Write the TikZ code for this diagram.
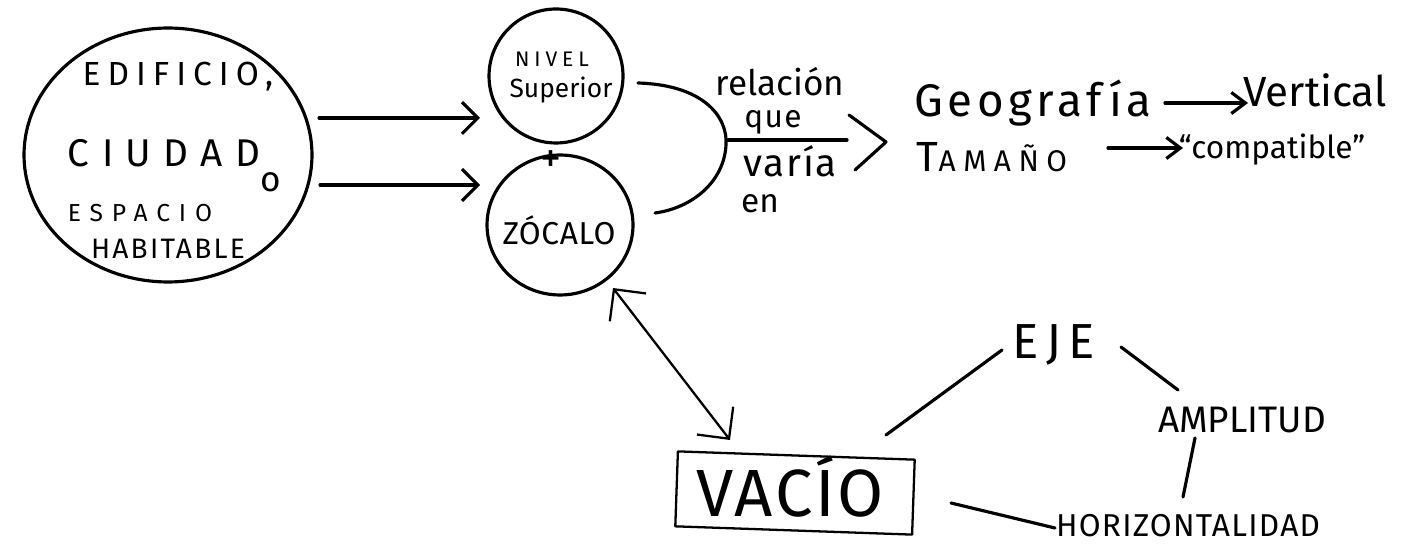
\documentclass[tikz,border=0pt]{standalone}
\usepackage{fontspec}
\setmainfont{Fira Sans}
\usetikzlibrary{arrows.meta,shapes.geometric}
\newcommand{\hwf}[2]{\fontsize{#1}{#1}\selectfont\addfontfeatures{LetterSpace=#2}}
\tikzset{
  ink/.style={line width=1.8pt, line cap=round, line join=round},
  thinink/.style={line width=1.3pt, line cap=round, line join=round},
  bubble/.style={draw, ellipse, ink, inner sep=0pt},
  txt/.style={inner sep=0pt, anchor=center},
  bigarr/.style={ink, -{Straight Barb[length=9pt,width=18pt,line width=1.8pt]}},
  smallarr/.style={ink, -{Straight Barb[length=8pt,width=12pt,line width=1.8pt]}},
  duoarr/.style={thinink, {Straight Barb[length=13pt,width=26pt,line width=1.3pt]}-{Straight Barb[length=13pt,width=26pt,line width=1.3pt]}},
}
\begin{document}
\begin{tikzpicture}[x=0.02cm,y=-0.02cm]
\useasboundingbox[fill=white] (0,0) rectangle (1416,546);

% left circle
\node[bubble, minimum width=5.76cm, minimum height=5.08cm] (big) at (168,155) {};
\node[txt, font=\hwf{19pt}{21}] (t1) at (178,77) {EDIFICIO,};
\node[txt, font=\hwf{22pt}{32}] (t2) at (164,153) {CIUDAD};
\node[txt, font=\hwf{20pt}{0}] (t3) at (271,182) {o};
\node[txt, font=\hwf{14pt}{36}] (t4) at (140,213) {ESPACIO};
\node[txt, font=\hwf{16pt}{8}] (t5) at (168,249) {HABITABLE};

% two circles
\node[bubble, minimum width=2.68cm, minimum height=2.68cm] (sup) at (556,76) {};
\node[txt, font=\hwf{12pt}{23}] (nivel) at (552,59) {NIVEL};
\node[txt, font=\hwf{15pt}{0}] (superior) at (561,90) {Superior};
\node[txt, font=\hwf{24pt}{0}] (plus) at (551,162) {+};
\node[bubble, minimum width=2.92cm, minimum height=2.8cm] (zoc) at (560,225) {};
\node[txt, font=\hwf{18pt}{2}] (zocalo) at (559,230) {ZÓCALO};

% arrows from the left circle
\draw[bigarr] ([shift={(151,-37)}]big.center) -- ([shift={(-76,42)}]sup.center);
\draw[bigarr] ([shift={(152,30)}]big.center) -- ([shift={(-80,-40)}]zoc.center);

% bracket
\draw[ink] ([shift={(82,7)}]sup.center) .. controls (705,85) and (728,118) .. (726,145)
  .. controls (724,182) and (692,208) .. ([shift={(95,-12)}]zoc.center);
\node[txt, font=\hwf{20pt}{0}] (relacion) at (780,82) {relación};
\node[txt, font=\hwf{18pt}{4}] (que) at (773,122) {que};
\draw[ink] (728,140) -- (847,140);
\node[txt, font=\hwf{22pt}{5}] (varia) at (790,161) {varía};
\node[txt, font=\hwf{19pt}{0}] (en) at (760,204) {en};
\draw[ink] (849,115) -- (886,142) -- (855,170);

% right upper
\node[txt, font=\hwf{26pt}{10}] (geo) at (1033,103) {Geografía};
\node[txt, font=\hwf{24pt}{0}] (vert) at (1315,90) {Vertical};
\node[txt, font=\hwf{24pt}{0}] (tam) at (992,157) {T{\hwf{17pt}{25}AMAÑO}};
\node[txt, font=\hwf{18pt}{0}] (comp) at (1272,150) {“compatible”};
\draw[smallarr] ([shift={(132,0)}]geo.center) -- ([shift={(-67,13)}]vert.center);
\draw[smallarr] ([shift={(116,-9)}]tam.center) -- ([shift={(-89,-2)}]comp.center);

% bottom
\node[draw, thinink, rotate=-2, minimum width=4.74cm, minimum height=1.5cm, inner sep=0pt] (vac) at (795,493) {};
\node[txt, font=\hwf{38pt}{4}] (vactxt) at (790,486) {VACÍO};
\draw[duoarr] ([shift={(53,63)}]zoc.center) -- ([shift={(-65,-53)}]vac.center);

\node[txt, font=\hwf{28pt}{15}] (eje) at (1054,345) {EJE};
\node[txt, font=\hwf{21pt}{0}] (amp) at (1242,420) {AMPLITUD};
\node[txt, font=\hwf{18pt}{4}] (hor) at (1188,526) {HORIZONTALIDAD};

\draw[ink] ([shift={(91,-58)}]vac.center) -- ([shift={(-52,5)}]eje.center);
\draw[ink] ([shift={(67,2)}]eje.center) -- ([shift={(-64,-30)}]amp.center);
\draw[ink] ([shift={(-47,18)}]amp.center) -- ([shift={(-5,-29)}]hor.center);
\draw[ink] ([shift={(156,10)}]vac.center) -- ([shift={(-133,2)}]hor.center);
\end{tikzpicture}
\end{document}
